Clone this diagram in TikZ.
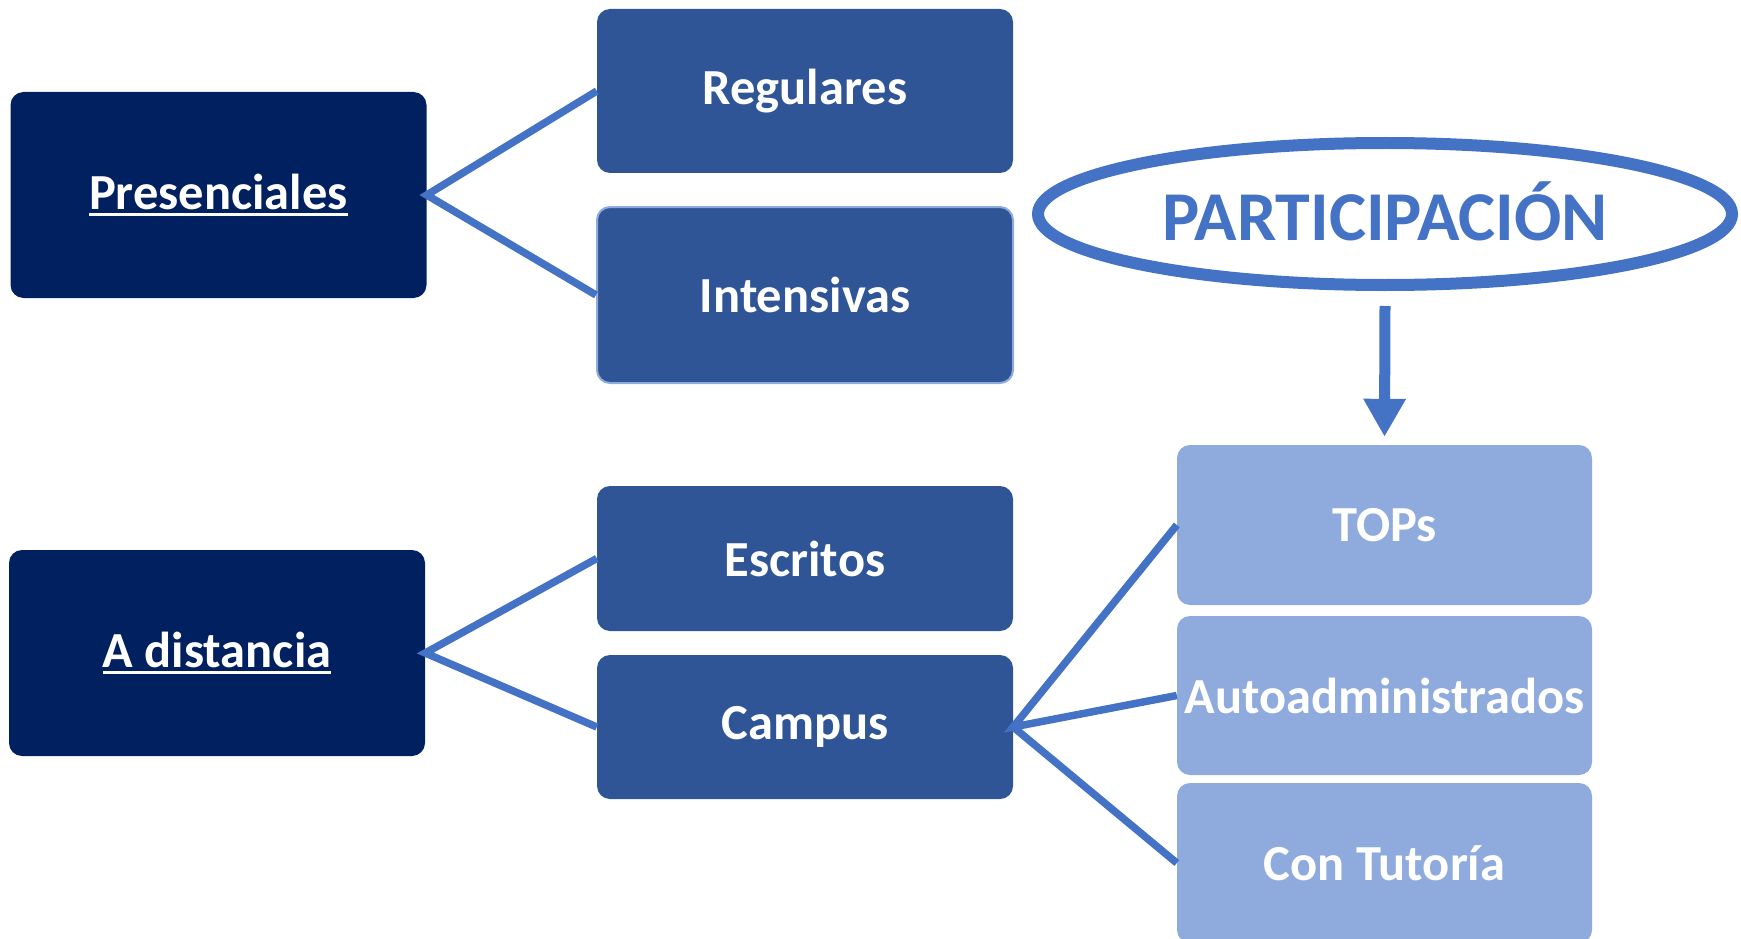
\documentclass[tikz,border=0pt]{standalone}
\usepackage{fontspec}
\setmainfont{Carlito}
\usetikzlibrary{shapes.geometric,arrows.meta}
\definecolor{navy}{HTML}{002060}
\definecolor{midblue}{HTML}{2F5597}
\definecolor{lightblue}{HTML}{8FAADC}
\definecolor{accent}{HTML}{4472C4}
\newcommand\myul[1]{\setbox0\hbox{#1}\rlap{\rule[-7pt]{\wd0}{3.5pt}}\box0}
\tikzset{
  box/.style={rectangle, rounded corners=13pt, inner sep=0pt, text=white,
    font=\fontsize{50.5}{54}\selectfont\bfseries},
  topbox/.style={box, fill=navy, minimum width=416pt, minimum height=206pt},
  midbox/.style={box, fill=midblue, minimum width=416pt},
  subbox/.style={box, fill=lightblue, minimum width=415pt},
  conn/.style={draw=accent, line width=7.5pt},
}
\begin{document}
\begin{tikzpicture}[x=1pt,y=-1pt]
\useasboundingbox (0,0) rectangle (1741,939);
\node[topbox] (pres) at (218.5,195) {\myul{Presenciales}};
\node[topbox] (adist) at (217,653) {\myul{A distancia}};
\node[midbox, minimum height=164pt] (reg) at (805,91) {Regulares};
\node[midbox, minimum height=176pt, draw=lightblue, line width=2pt] (int) at (805,295) {Intensivas};
\node[midbox, minimum height=145pt] (esc) at (805,558.5) {Escritos};
\node[midbox, minimum height=144pt] (cam) at (805,727) {Campus};
\node[subbox, minimum height=160pt] (tops) at (1384.5,525) {TOPs};
\node[subbox, minimum height=159pt] (auto) at (1384.5,695.5) {Autoadministrados};
\node[subbox, minimum height=160pt] (con) at (1384.5,863) {Con Tutoría};
\node[ellipse, draw=accent, line width=12pt, minimum width=694pt, minimum height=142pt,
  inner sep=0pt, text=accent, font=\fontsize{70}{74}\selectfont\bfseries] (part) at (1385,214) {\raisebox{5pt}{PARTICIPACIÓN}};
\draw[conn] (reg.west) -- (pres.east) -- (int.west);
\draw[conn] (esc.west) -- (adist.east) -- (cam.west);
\draw[conn] (tops.west) -- (cam.east) -- (auto.west);
\draw[conn] (cam.east) -- (con.west);
\draw[draw=accent, line width=11pt, -{Triangle[width=40pt,length=38pt]}]
  ([yshift=-15pt]part.south) -- ([yshift=8pt]tops.north);
\end{tikzpicture}
\end{document}
